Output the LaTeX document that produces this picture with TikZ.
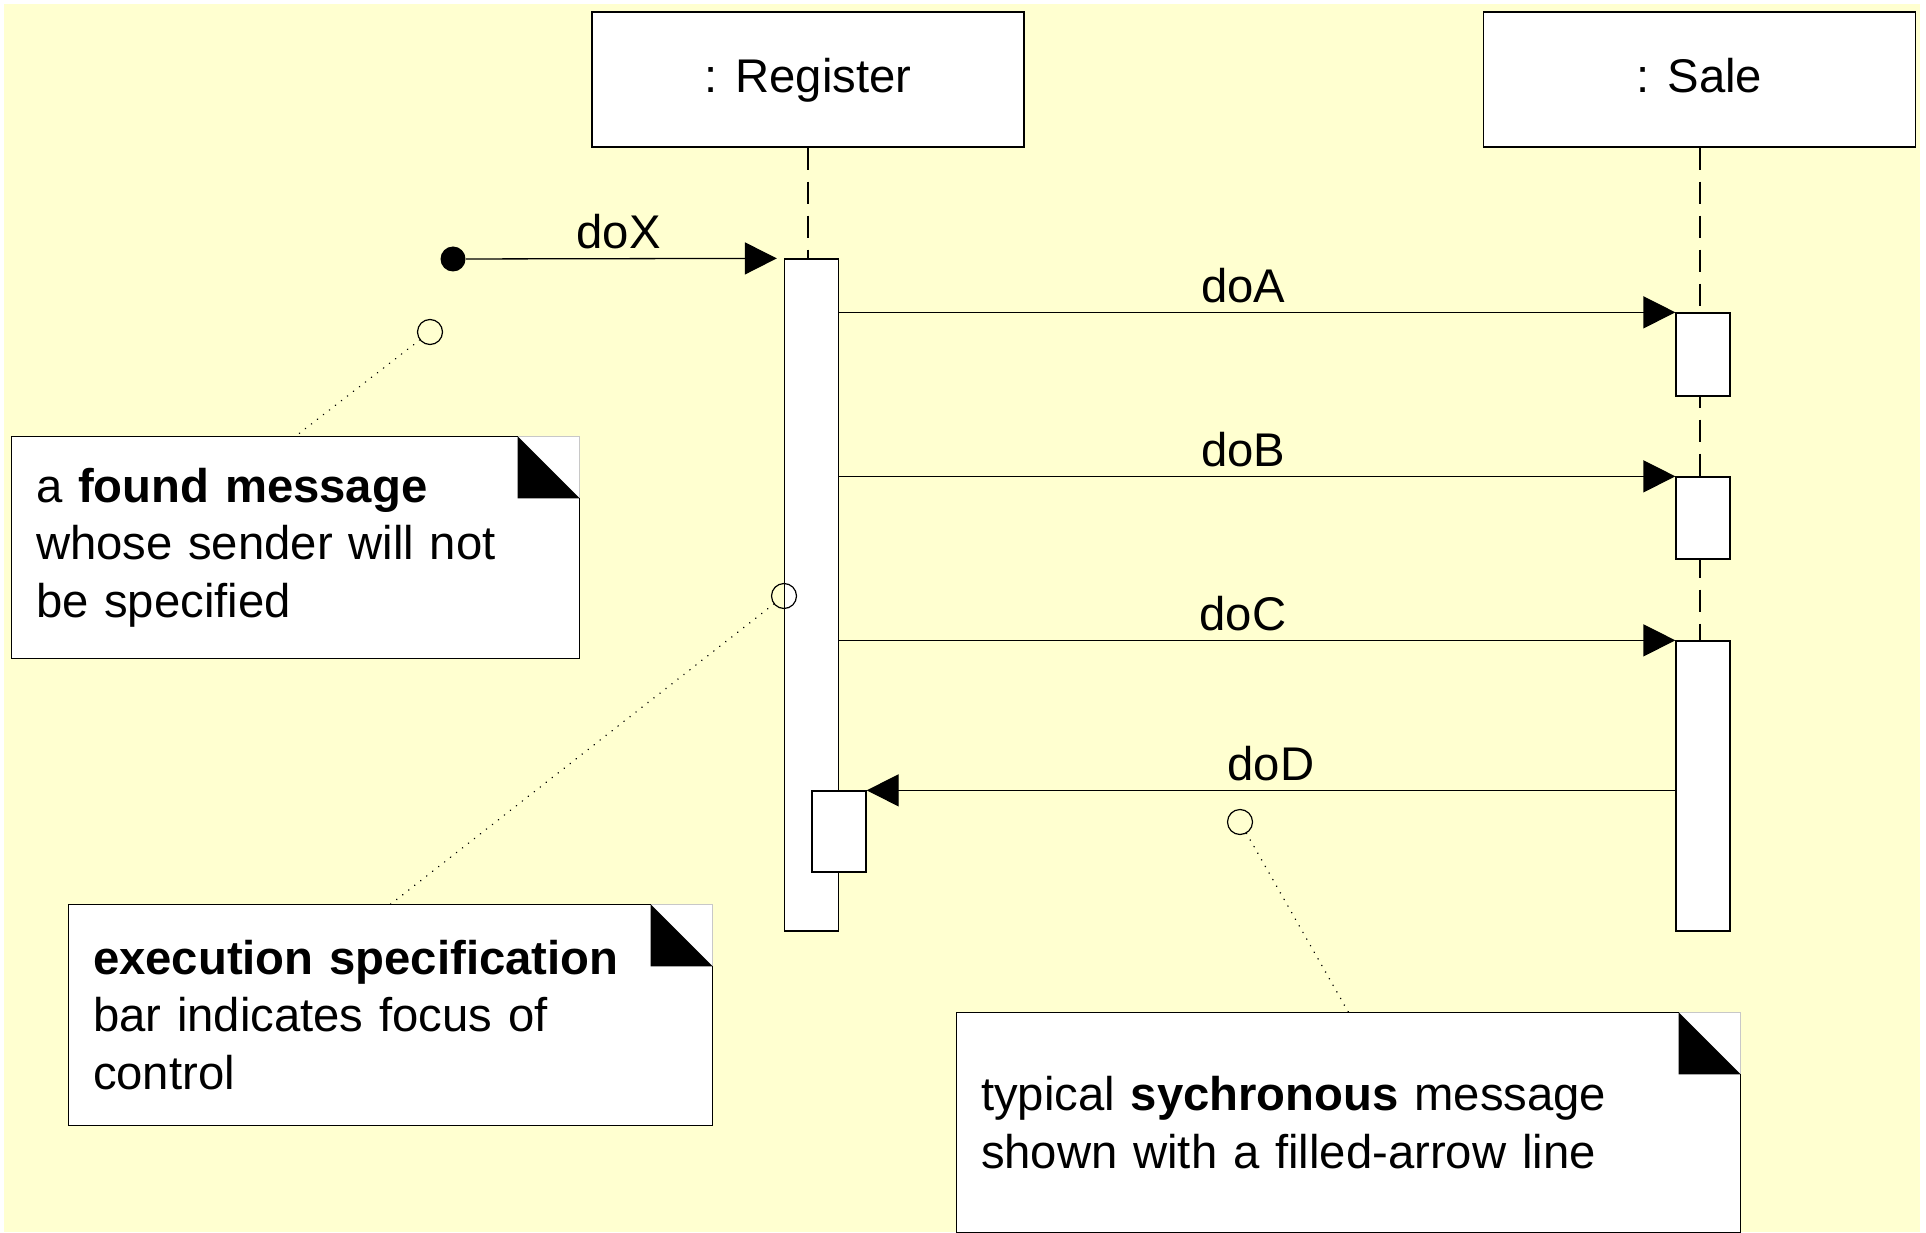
\documentclass[tikz,border=0pt]{standalone}
\usepackage{fontspec}
\setmainfont{Liberation Sans}
\usetikzlibrary{arrows.meta}

\definecolor{paper}{RGB}{255,255,208}
\definecolor{ink}{RGB}{0,0,0}
\definecolor{foldgray}{RGB}{200,200,200}

\begin{document}
\begin{tikzpicture}[
    font=\fontsize{13.45pt}{16.4pt}\selectfont,
    head/.style={rectangle, draw=ink, fill=white, line width=0.13mm, minimum width=4.32cm, minimum height=1.35cm, text height=0.72em, text depth=0em},
    bar/.style={rectangle, draw=ink, fill=white, line width=0.13mm, minimum width=0.54cm, inner sep=0pt},
    lifeline/.style={draw=ink, line width=0.2mm, dash pattern=on 2.2mm off 1.2mm},
    msg/.style={-{Triangle[length=3.2mm, width=3.2mm]}, draw=ink, line width=0.13mm},
    msglabel/.style={above, inner sep=0.9mm},
    founddot/.style={circle, fill=ink, minimum size=2.5mm, inner sep=0pt},
    ring/.style={circle, draw=ink, line width=0.12mm, minimum size=2.5mm, inner sep=0pt},
    note/.style={rectangle, fill=white, inner xsep=2.4mm, inner ysep=0pt, align=left},
    noteedge/.style={draw=ink, line width=0.13mm},
    foldedge/.style={draw=foldgray, line width=0.12mm},
    notelink/.style={draw=ink, line width=0.16mm, dash pattern=on 0.01mm off 0.75mm, line cap=round}
]

% Canvas
\useasboundingbox (0,0) rectangle (19.26,-12.33);
\fill[paper] (0.04,-0.04) rectangle (19.20,-12.32);

% Lifeline heads
\node[head] (reghead) at (8.08,-0.795) {: Register};
\node[head] (salehead) at (16.995,-0.795) {: Sale};

% Lifelines (dashed)
\draw[lifeline] (reghead.south) -- (reghead.south |- 0,-2.59);
\draw[lifeline] (salehead.south) -- (salehead.south |- 0,-6.41);

% Execution bars
\node[bar, minimum height=6.72cm] (regbar) at (8.115,-5.95) {};
\node[bar, minimum height=0.81cm] (nest) at (8.39,-8.315) {};
\node[bar, minimum height=0.83cm] (saleA) at (17.03,-3.545) {};
\node[bar, minimum height=0.82cm] (saleB) at (17.03,-5.18) {};
\node[bar, minimum height=2.90cm] (saleC) at (17.03,-7.86) {};

% Found message
\node[founddot] (origin) at (4.53,-2.59) {};
\draw[msg, shorten >=0.7mm] (origin) -- node[msglabel, pos=0.48] {doX} (regbar.north west);

% Synchronous messages
\draw[msg] (saleA.north west -| regbar.east) -- node[msglabel, pos=0.483] {doA} (saleA.north west);
\draw[msg] (saleB.north west -| regbar.east) -- node[msglabel, pos=0.483] {doB} (saleB.north west);
\draw[msg] (saleC.north west -| regbar.east) -- node[msglabel, pos=0.483] {doC} (saleC.north west);
\draw[msg] (saleC.west |- nest.north east) -- node[msglabel] {doD} (nest.north east);

% Notes
\node[note, text width=5.19cm, minimum height=2.21cm] (found) at (2.955,-5.475)
    {a \textbf{found message}\\whose sender will not\\be specified};
\node[note, text width=5.95cm, minimum height=2.20cm] (exec) at (3.905,-10.15)
    {\textbf{execution specification}\\bar indicates focus of\\control};
\node[note, text width=7.35cm, minimum height=2.19cm] (sync) at (13.485,-11.225)
    {typical \textbf{sychronous} message\\shown with a filled-arrow line};

\foreach \n in {found, exec, sync} {
    \draw[foldedge] ([xshift=-6.2mm]\n.north east) -- (\n.north east) -- ([yshift=-6.2mm]\n.north east);
    \draw[noteedge] ([yshift=-6.2mm]\n.north east) -- (\n.south east) -- (\n.south west)
        -- (\n.north west) -- ([xshift=-6.2mm]\n.north east);
    \fill[ink] ([xshift=-6.2mm]\n.north east) -- ([xshift=-6.2mm, yshift=-6.2mm]\n.north east)
        -- ([yshift=-6.2mm]\n.north east) -- cycle;
}

% Note anchors
\node[ring] (foundring) at (4.30,-3.32) {};
\node[ring] (execring) at (7.84,-5.96) {};
\node[ring] (syncring) at (12.40,-8.22) {};

\draw[notelink] (foundring) -- (found.north);
\draw[notelink] (execring) -- (exec.north);
\draw[notelink] (syncring) -- (sync.north);

\end{tikzpicture}
\end{document}
